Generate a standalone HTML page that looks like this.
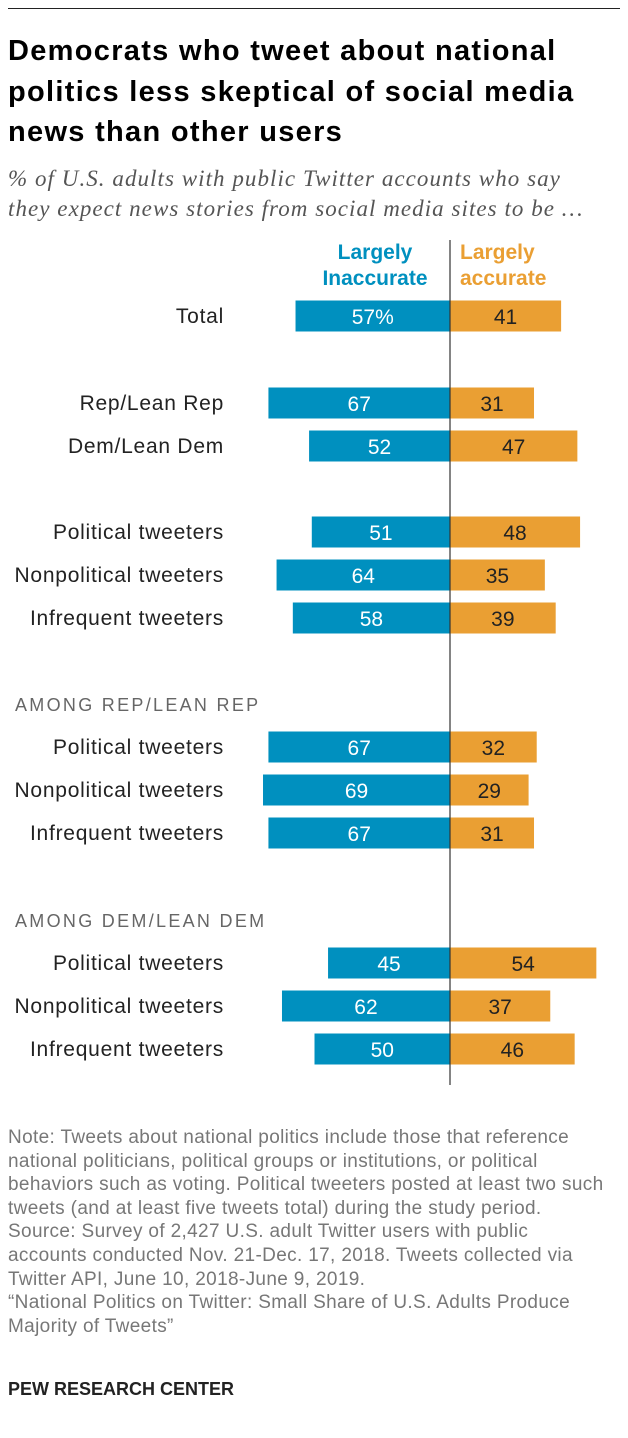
<!DOCTYPE html>
<html><head><meta charset="utf-8"><style>
body{margin:0;width:628px;height:1438px;background:#fff;font-family:"Liberation Sans",sans-serif;position:relative;overflow:hidden}
.t{position:absolute;white-space:nowrap}
</style></head><body>
<div style="position:absolute;left:8px;top:8px;width:612px;height:1px;background:#222"></div>
<div class="t" style="left:8px;top:31px;font-size:29px;letter-spacing:1.3px;font-weight:bold;line-height:40.5px;color:#000">Democrats who tweet about national<br>politics less skeptical of social media<br>news than other users</div>
<div class="t" style="left:8px;top:164px;font-family:'Liberation Serif',serif;font-style:italic;font-size:23px;letter-spacing:1.05px;line-height:30px;color:#555">% of U.S. adults with public Twitter accounts who say<br>they expect news stories from social media sites to be …</div>
<svg id="c" width="628" height="1100" style="position:absolute;left:0;top:0" font-family="Liberation Sans, sans-serif"></svg>
<div class="t" style="left:8px;top:1126px;font-size:19px;letter-spacing:0.35px;line-height:23.6px;color:#777">Note: Tweets about national politics include those that reference<br>national politicians, political groups or institutions, or political<br>behaviors such as voting. Political tweeters posted at least two such<br>tweets (and at least five tweets total) during the study period.<br>Source: Survey of 2,427 U.S. adult Twitter users with public<br>accounts conducted Nov. 21-Dec. 17, 2018. Tweets collected via<br>Twitter API, June 10, 2018-June 9, 2019.<br>“National Politics on Twitter: Small Share of U.S. Adults Produce<br>Majority of Tweets”</div>
<div class="t" style="left:8px;top:1379px;font-size:18px;font-weight:bold;color:#222">PEW RESEARCH CENTER</div>
<script>
const labels=["Total","Rep/Lean Rep","Dem/Lean Dem","Political tweeters","Nonpolitical tweeters","Infrequent tweeters","AMONG REP/LEAN REP","Political tweeters","Nonpolitical tweeters","Infrequent tweeters","AMONG DEM/LEAN DEM","Political tweeters","Nonpolitical tweeters","Infrequent tweeters"];
const inaccurate=[57,67,52,51,64,58,null,67,69,67,null,45,62,50];
const accurate=[41,31,47,48,35,39,null,32,29,31,null,54,37,46];
const rowY=[316,403,446,532,575,618,705,747,790,833,921,963,1006,1049];
const NS="http://www.w3.org/2000/svg",svg=document.getElementById('c');
const cx=450,k=2.71,bh=31;
const x=v=>v*k;
function mk(t,a){const e=document.createElementNS(NS,t);for(const p in a)e.setAttribute(p,a[p]);svg.appendChild(e);return e;}
let e;
e=mk('text',{x:375,y:259,'text-anchor':'middle','font-size':21,'font-weight':'bold',fill:'#0090bf'});e.textContent='Largely';


e=mk('text',{x:375,y:285,'text-anchor':'middle','font-size':21,'font-weight':'bold',fill:'#0090bf'});e.textContent='Inaccurate';


e=mk('text',{x:460,y:259,'font-size':21,'font-weight':'bold',fill:'#ea9f33'});e.textContent='Largely';


e=mk('text',{x:460,y:285,'font-size':21,'font-weight':'bold',fill:'#ea9f33'});e.textContent='accurate';


labels.forEach((l,i)=>{
 const y=rowY[i];
 if(inaccurate[i]===null){
  e=mk('text',{x:15,y:y+6,'font-size':18,fill:'#666','letter-spacing':'2.3'});e.textContent=l;
  
  
  return;}
 e=mk('text',{x:224,y:y+7,'text-anchor':'end','font-size':21,'letter-spacing':'0.75',fill:'#222'});e.textContent=l;
 
 
 const w1=x(inaccurate[i]);
 e=mk('rect',{x:cx-w1,y:y-bh/2,width:w1,height:bh,fill:'#0090bf'});
 
 
 e=mk('text',{x:cx-w1/2,y:y+8,'text-anchor':'middle','font-size':21,fill:'#fff'});e.textContent=inaccurate[i]+(i===0?'%':'');
 
 
 const w2=x(accurate[i]);
 e=mk('rect',{x:cx,y:y-bh/2,width:w2,height:bh,fill:'#ea9f33'});
 
 
 e=mk('text',{x:cx+w2/2,y:y+8,'text-anchor':'middle','font-size':21,fill:'#222'});e.textContent=accurate[i];
 
 
});
e=mk('line',{x1:cx,x2:cx,y1:240,y2:1085,stroke:'#333','stroke-width':1.2});


</script>
</body></html>
